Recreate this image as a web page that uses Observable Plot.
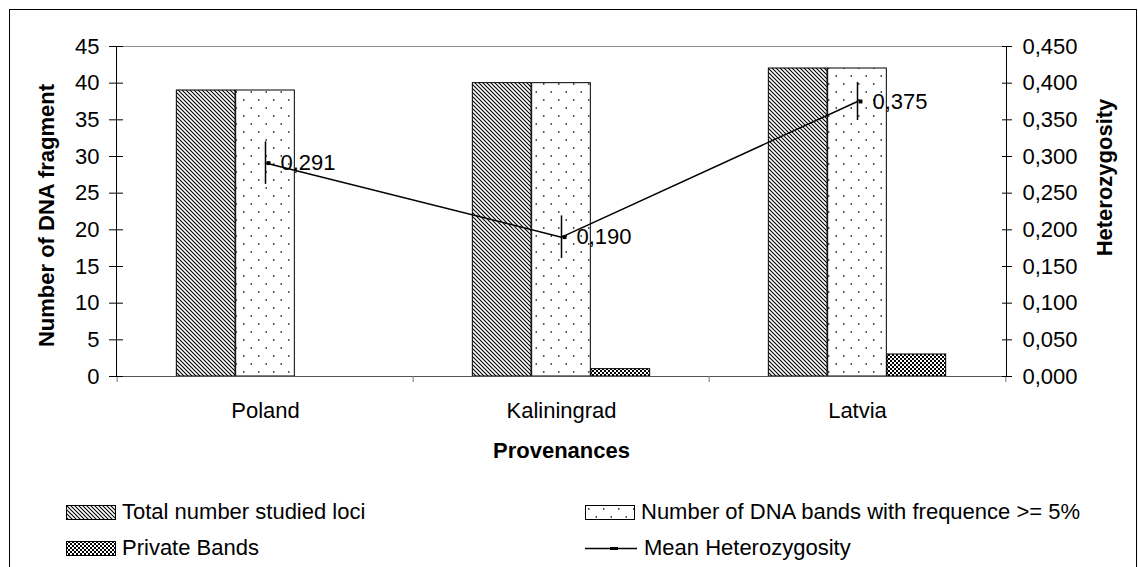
<!DOCTYPE html>
<html>
<head>
<meta charset="utf-8">
<script src="https://cdn.jsdelivr.net/npm/d3@7"></script>
<script src="https://cdn.jsdelivr.net/npm/@observablehq/plot@0.6"></script>
<style>
  body { margin: 0; background: #fff; font-family: "Liberation Sans", Arial, sans-serif; }
  #border { position: absolute; left: 9px; top: 9px; width: 1126px; height: 620px; border: 1px solid #000; border-bottom: none; z-index: 5; pointer-events: none; }
  #chart { position: absolute; left: 0; top: 0; width: 1138px; }
  #legend { position: relative; width: 1138px; height: 87px; font-size: 22px; color: #000; }
  .item { position: absolute; display: flex; align-items: center; height: 24px; white-space: nowrap; }
  .item svg { margin-right: 6px; }
</style>
</head>
<body>
<div id="border"></div>
<div id="chart"></div>
<script>
// ---- data ----
const categories = ["Poland", "Kaliningrad", "Latvia"];
const totalStudiedLoci = [39, 40, 42];
const bandsFreq5 = [39, 40, 42];
const privateBands = [0, 1, 3];
const meanHeterozygosity = [0.291, 0.190, 0.375];
const heterozygosityError = [0.029, 0.029, 0.026];
const hetLabels = ["0,291", "0,190", "0,375"];
const leftTicks = [0, 5, 10, 15, 20, 25, 30, 35, 40, 45];
const rightTickLabels = ["0,000", "0,050", "0,100", "0,150", "0,200", "0,250", "0,300", "0,350", "0,400", "0,450"];
const seriesNames = ["Total number studied loci", "Number of DNA bands with frequence >= 5%", "Private Bands", "Mean Heterozygosity"];
const hetScale = 100; // right axis 0..0.45 maps to left axis 0..45

const rows = categories.map((c, i) => ({
  cat: c, total: totalStudiedLoci[i], b5: bandsFreq5[i], priv: privateBands[i],
  het: meanHeterozygosity[i], err: heterozygosityError[i], lab: hetLabels[i]
}));

const W = 1138, H = 480, mL = 116, mR = 132, mT = 46, mB = 104;
const bw = (W - mL - mR) / categories.length;
const inset = k => ({insetLeft: bw * (0.2 + 0.2 * k), insetRight: bw * (0.6 - 0.2 * k)});
const font = 22;

const plot = Plot.plot({
  width: W, height: H,
  marginLeft: mL, marginRight: mR, marginTop: mT, marginBottom: mB,
  style: {fontFamily: "'Liberation Sans', Arial, sans-serif", fontSize: font + "px", color: "#000", background: "#fff", overflow: "visible"},
  x: {domain: categories, padding: 0, axis: null},
  y: {domain: [0, 45], axis: null},
  marks: [
    Plot.ruleY([45], {stroke: "#8c8c8c"}),
    Plot.barY(rows, {x: "cat", y: "total", fill: "url(#hatch)", stroke: "#000", ...inset(0)}),
    Plot.barY(rows, {x: "cat", y: "b5", fill: "url(#dots)", stroke: "#000", ...inset(1)}),
    Plot.barY(rows.filter(d => d.priv > 0), {x: "cat", y: "priv", fill: "url(#checker)", stroke: "#000", ...inset(2)}),
    Plot.ruleY([0], {stroke: "#555"}),
    Plot.ruleX(rows, {x: "cat", y1: 0, y2: 0, dx: -bw / 2, insetBottom: -6, stroke: "#777"}),
    Plot.ruleX(rows.slice(-1), {x: "cat", y1: 0, y2: 0, dx: bw / 2, insetBottom: -6, stroke: "#777"}),
    Plot.frame({anchor: "left", stroke: "#000"}),
    Plot.frame({anchor: "right", stroke: "#000"}),
    Plot.axisY({anchor: "left", ticks: leftTicks, tickFormat: d => String(d), tickSize: 7, tickPadding: 10, fontSize: font, label: null}),
    Plot.axisY({anchor: "left", ticks: leftTicks, tickFormat: () => "", tickSize: 7, dx: 7, label: null}),
    Plot.axisY({anchor: "right", ticks: leftTicks, tickFormat: d => rightTickLabels[leftTicks.indexOf(d)], tickSize: 5, tickPadding: 11, fontSize: font, label: null}),
    Plot.axisY({anchor: "right", ticks: leftTicks, tickFormat: () => "", tickSize: 5, dx: -5, label: null}),
    Plot.axisX({tickSize: 0, tickPadding: 26, fontSize: font, label: null}),
    Plot.line(rows, {x: "cat", y: d => d.het * hetScale, stroke: "#000", strokeWidth: 1.5}),
    Plot.ruleX(rows, {x: "cat", y1: d => (d.het - d.err) * hetScale, y2: d => (d.het + d.err) * hetScale, stroke: "#000", strokeWidth: 1.5}),
    Plot.dot(rows, {x: "cat", y: d => d.het * hetScale, symbol: "square", r: 2.2, fill: "#000", dx: 3}),
    Plot.text(rows, {x: "cat", y: d => d.het * hetScale, text: "lab", dx: 15, textAnchor: "start", fontSize: font}),
    Plot.text(["Number of DNA fragment"], {frameAnchor: "left", textAnchor: "middle", rotate: -90, dx: -70, dy: 4, fontWeight: "bold", fontSize: font}),
    Plot.text(["Heterozygosity"], {frameAnchor: "right", textAnchor: "middle", rotate: -90, dx: 98, dy: -34, fontWeight: "bold", fontSize: font}),
    Plot.text(["Provenances"], {frameAnchor: "bottom", dy: 81, fontWeight: "bold", fontSize: font})
  ]
});

function defsMarkup() {
  return `
  <pattern id="hatch" patternUnits="userSpaceOnUse" width="4" height="4">
    <rect width="4" height="4" fill="#fff"/>
    <path d="M-1,-1 L5,5 M-1,3 L1,5 M3,-1 L5,1" stroke="#000" stroke-width="1.1"/>
  </pattern>
  <pattern id="dots" patternUnits="userSpaceOnUse" width="15" height="16">
    <rect width="15" height="16" fill="#fff"/>
    <circle cx="3.75" cy="4" r="0.9" fill="#444"/>
    <circle cx="11.25" cy="12" r="0.9" fill="#444"/>
  </pattern>
  <pattern id="checker" patternUnits="userSpaceOnUse" width="4" height="4">
    <rect width="4" height="4" fill="#000"/>
    <rect x="0" y="0" width="2" height="2" fill="#fff"/>
    <rect x="2" y="2" width="2" height="2" fill="#fff"/>
  </pattern>`;
}

const defs = document.createElementNS("http://www.w3.org/2000/svg", "defs");
defs.innerHTML = defsMarkup();
plot.insertBefore(defs, plot.firstChild);

const chart = document.getElementById("chart");
chart.appendChild(plot);

// ---- legend (below the SVG) ----
const legend = document.createElement("div");
legend.id = "legend";
const sw = (fill) => `<svg width="50" height="15"><rect x="0.5" y="0.5" width="49" height="14" fill="${fill}" stroke="#000"/></svg>`;
const lineSw = `<svg width="53" height="15"><line x1="0" x2="52" y1="7.5" y2="7.5" stroke="#000" stroke-width="1.5"/><rect x="25" y="6" width="8" height="3" fill="#000"/></svg>`;
const items = [
  {left: 66, top: 20, html: sw("url(#hatch)"), text: seriesNames[0]},
  {left: 585, top: 20, html: sw("url(#dots)"), text: seriesNames[1]},
  {left: 66, top: 56, html: sw("url(#checker)"), text: seriesNames[2]},
  {left: 585, top: 56, html: lineSw, text: seriesNames[3]}
];
for (const it of items) {
  const d = document.createElement("div");
  d.className = "item";
  d.style.left = it.left + "px";
  d.style.top = it.top + "px";
  d.innerHTML = it.html;
  const s = document.createElement("span");
  s.textContent = it.text;
  d.appendChild(s);
  legend.appendChild(d);
}
chart.appendChild(legend);
</script>
</body>
</html>
